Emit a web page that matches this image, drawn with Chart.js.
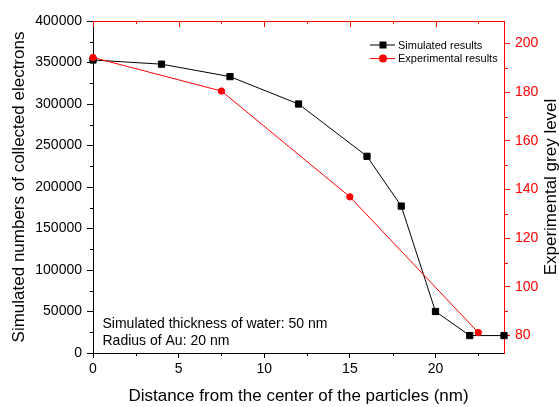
<!DOCTYPE html>
<html>
<head>
<meta charset="utf-8">
<script src="https://cdn.jsdelivr.net/npm/chart.js@4/dist/chart.umd.min.js"></script>
<style>
  html, body { margin: 0; padding: 0; background: #fff; }
  canvas { display: block; }
</style>
</head>
<body>
<canvas id="grey" width="559" height="407"></canvas>
<script>
// simulated electron counts vs. measured grey level
const distSim = [0, 4, 8, 12, 16, 18, 20, 22, 24];
const electrons = [353000, 348000, 333000, 300000, 237000, 177000, 50000, 21000, 21000];
const distExp = [0, 7.5, 15, 22.5];
const greyLevel = [194.3, 180.5, 137, 81.2];

const xTicks = [0, 5, 10, 15, 20];
const xMinor = [2.5, 7.5, 12.5, 17.5, 22.5];
const yTicks = [0, 50000, 100000, 150000, 200000, 250000, 300000, 350000, 400000];
const yMinor = [25000, 75000, 125000, 175000, 225000, 275000, 325000, 375000];
const y1Ticks = [80, 100, 120, 140, 160, 180, 200];
const y1Minor = [90, 110, 130, 150, 170, 190];

const RED = '#ff0000';
const FONT = "'Liberation Sans', Arial, Helvetica, sans-serif";
Chart.defaults.font.family = FONT;

const extras = {
  id: 'extras',
  afterDraw(chart){
    const {ctx, chartArea: a, scales} = chart;
    const sx = scales.x, sy = scales.y, sy1 = scales.y1;
    const px = v => Math.round(sx.getPixelForValue(v)) + 0.5;
    ctx.save();
    ctx.lineWidth = 1;
    // black minor ticks (left, bottom)
    ctx.strokeStyle = '#000';
    ctx.beginPath();
    yMinor.forEach(v=>{ const y = Math.round(sy.getPixelForValue(v)) + 0.5; ctx.moveTo(a.left, y); ctx.lineTo(a.left - 3, y); });
    xMinor.forEach(v=>{ const x = px(v); ctx.moveTo(x, a.bottom); ctx.lineTo(x, a.bottom + 3); });
    ctx.stroke();
    // red top frame + its ticks, right minor ticks
    ctx.strokeStyle = RED;
    ctx.beginPath();
    ctx.moveTo(a.left, a.top + 0.5); ctx.lineTo(a.right + 1, a.top + 0.5);
    xTicks.forEach(v=>{ const x = px(v); ctx.moveTo(x, a.top); ctx.lineTo(x, a.top + 6); });
    xMinor.forEach(v=>{ const x = px(v); ctx.moveTo(x, a.top); ctx.lineTo(x, a.top + 3); });
    y1Minor.forEach(v=>{ const y = Math.round(sy1.getPixelForValue(v)) + 0.5; ctx.moveTo(a.right, y); ctx.lineTo(a.right + 4, y); });
    ctx.stroke();

    // legend
    const lx = a.right - 134, ly = a.top + 24;
    const rows = [
      {text: 'Simulated results', color: '#000', shape: 'rect'},
      {text: 'Experimental results', color: RED, shape: 'circle'}
    ];
    ctx.font = '11px ' + FONT;
    ctx.textBaseline = 'middle';
    ctx.textAlign = 'left';
    rows.forEach((r, i)=>{
      const y = ly + i * 13.6;
      ctx.strokeStyle = r.color; ctx.fillStyle = r.color;
      ctx.beginPath(); ctx.moveTo(lx, y); ctx.lineTo(lx + 25, y); ctx.stroke();
      ctx.beginPath();
      if (r.shape === 'rect') ctx.rect(lx + 9.5, y - 3.5, 7, 7);
      else ctx.arc(lx + 13, y, 4, 0, Math.PI * 2);
      ctx.fill();
      ctx.fillStyle = '#000';
      ctx.fillText(r.text, lx + 28, y + 0.5);
    });

    // note
    ctx.font = '14px ' + FONT;
    ctx.textBaseline = 'alphabetic';
    ctx.fillStyle = '#000';
    ctx.fillText('Simulated thickness of water: 50 nm', a.left + 9.5, a.bottom - 25);
    ctx.fillText('Radius of Au: 20 nm', a.left + 9.5, a.bottom - 8.5);

    // right axis title (reads bottom to top)
    ctx.font = '17px ' + FONT;
    ctx.textAlign = 'center';
    ctx.textBaseline = 'middle';
    ctx.translate(551, (a.top + a.bottom) / 2);
    ctx.rotate(-Math.PI / 2);
    ctx.fillText('Experimental grey level', 0, 0);
    ctx.restore();
  }
};

new Chart(document.getElementById('grey').getContext('2d'), {
  type: 'line',
  data: {
    datasets: [
      {
        label: 'Simulated results',
        data: distSim.map((d, i)=>({x: d, y: electrons[i]})),
        yAxisID: 'y',
        borderColor: '#000', backgroundColor: '#000',
        borderWidth: 1, pointStyle: 'rect', pointRadius: 4.4, pointBorderWidth: 1,
        clip: false, order: 2
      },
      {
        label: 'Experimental results',
        data: distExp.map((d, i)=>({x: d, y: greyLevel[i]})),
        yAxisID: 'y1',
        borderColor: RED, backgroundColor: RED,
        borderWidth: 1, pointStyle: 'circle', pointRadius: 3.2, pointBorderWidth: 1,
        clip: false, order: 1
      }
    ]
  },
  options: {
    responsive: false,
    animation: false,
    layout: { padding: { top: 21, left: 0, right: 0, bottom: 0 } },
    plugins: { legend: { display: false }, tooltip: { enabled: false } },
    scales: {
      x: {
        type: 'linear', min: 0, max: 24,
        afterBuildTicks: s=>{ s.ticks = xTicks.map(v=>({value: v})); },
        afterFit: s=>{ s.height = 54; },
        ticks: { color: '#000', font: { size: 14 }, padding: 3, maxRotation: 0 },
        grid: { drawOnChartArea: false, tickLength: 5, color: '#000' },
        border: { color: '#000', width: 1 },
        title: { display: true, text: 'Distance from the center of the particles (nm)', color: '#000', font: { size: 17 }, padding: 0 }
      },
      y: {
        type: 'linear', position: 'left', min: 0, max: 400000,
        afterBuildTicks: s=>{ s.ticks = yTicks.map(v=>({value: v})); },
        afterFit: s=>{ s.width = 93; },
        ticks: { color: '#000', font: { size: 14 }, padding: 5, callback: v=>String(v) },
        grid: { drawOnChartArea: false, tickLength: 6, color: '#000' },
        border: { color: '#000', width: 1 },
        title: { display: true, text: 'Simulated numbers of collected electrons', color: '#000', font: { size: 17 }, padding: { top: 9, bottom: 0 } }
      },
      y1: {
        type: 'linear', position: 'right', min: 72.8, max: 209.3,
        afterBuildTicks: s=>{ s.ticks = y1Ticks.map(v=>({value: v})); },
        afterFit: s=>{ s.width = 55; },
        ticks: { color: RED, font: { size: 14 }, padding: 5 },
        grid: { drawOnChartArea: false, tickLength: 6, color: RED },
        border: { color: RED, width: 1 }
      }
    }
  },
  plugins: [extras]
});
</script>
</body>
</html>
